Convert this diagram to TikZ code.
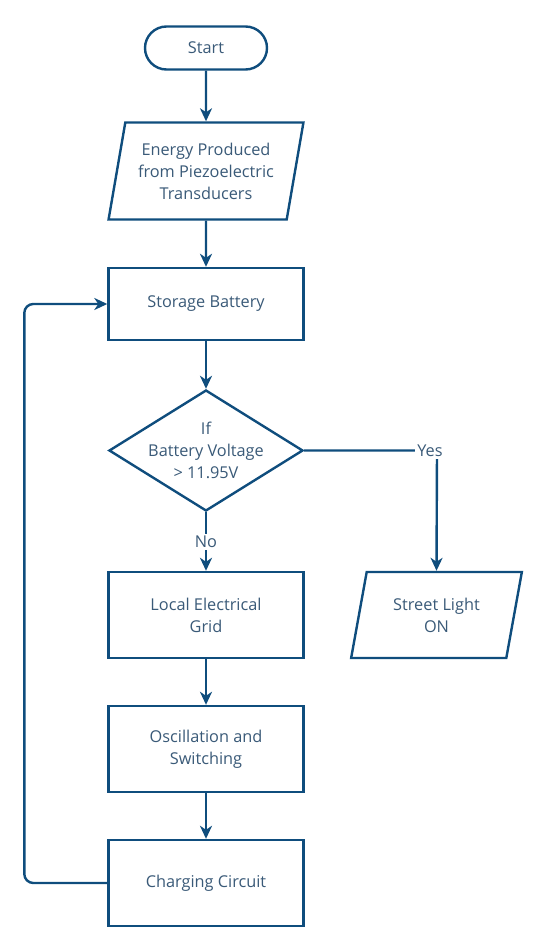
\documentclass[tikz,border=0pt]{standalone}
\usepackage{fontspec}
\setmainfont{Open Sans}
\usetikzlibrary{shapes.geometric,shapes.misc,arrows.meta}
\definecolor{lineblue}{HTML}{0F4D7D}
\definecolor{textblue}{HTML}{3A5A78}
\begin{document}
\begin{tikzpicture}[x=1pt,y=-1pt,
  every node/.style={font=\fontsize{16.3}{22}\selectfont, text=textblue, align=center},
  box/.style={draw=lineblue, line width=2.4pt, fill=white, minimum width=195pt, minimum height=86pt, inner sep=0pt},
  io/.style={draw=lineblue, line width=2.4pt, fill=white, trapezium, trapezium stretches=true, inner sep=0pt},
  term/.style={draw=lineblue, line width=2.4pt, rounded rectangle, minimum width=122pt, minimum height=43pt, inner sep=0pt},
  dec/.style={draw=lineblue, line width=2.4pt, diamond, minimum width=194pt, minimum height=121pt, inner sep=0pt},
  lbl/.style={fill=white, inner sep=2pt},
  conn/.style={draw=lineblue, line width=2.4pt},
  arr/.style={conn, -{Stealth[length=13pt,width=12pt,inset=4pt]}}
]
\useasboundingbox (0,0) rectangle (547,950);
\node[term] (start) at (206,48) {Start};
\node[io, trapezium left angle=76, trapezium right angle=104, minimum width=195pt, minimum height=97pt] (energy) at (206,171) {Energy Produced\\from Piezoelectric\\Transducers};
\node[box, minimum height=72pt] (storage) at (206,304) {\raisebox{-1.5pt}{Storage Battery}};
\node[dec] (check) at (206,450.5) {\smash{\makebox[0pt]{\raisebox{-5.5pt}{\begin{tabular}{@{}c@{}}If\\Battery Voltage\\\textgreater{} 11.95V\end{tabular}}}}};
\node[box] (grid) at (206,615) {Local Electrical\\Grid};
\node[box] (osc) at (206,749) {Oscillation and\\Switching};
\node[box] (charge) at (206,883) {\raisebox{-1.5pt}{Charging Circuit}};
\node[io, trapezium left angle=74.4, trapezium right angle=105.6, minimum width=171pt, minimum height=86pt] (street) at (436.5,615) {Street Light\\ON};
\coordinate (corner) at (437,450.5);

\draw[arr] (start) -- (energy.south |- energy.north);
\draw[arr] (energy.south) -- (storage.north);
\draw[arr] (storage.south) -- (check.north);
\draw[arr] (check.south) -- (grid.north);
\draw[arr] (grid.south) -- (osc.north);
\draw[arr] (osc.south) -- (charge.north);
\draw[arr] (check.east) -- (corner) -- (street.north);
\draw[arr, rounded corners=9pt] (charge.west) -- ++(-83,0) |- (storage.west);
\node[lbl] (yes) at (430,451) {Yes};
\node[lbl] (no) at (206,542) {No};
\end{tikzpicture}
\end{document}
